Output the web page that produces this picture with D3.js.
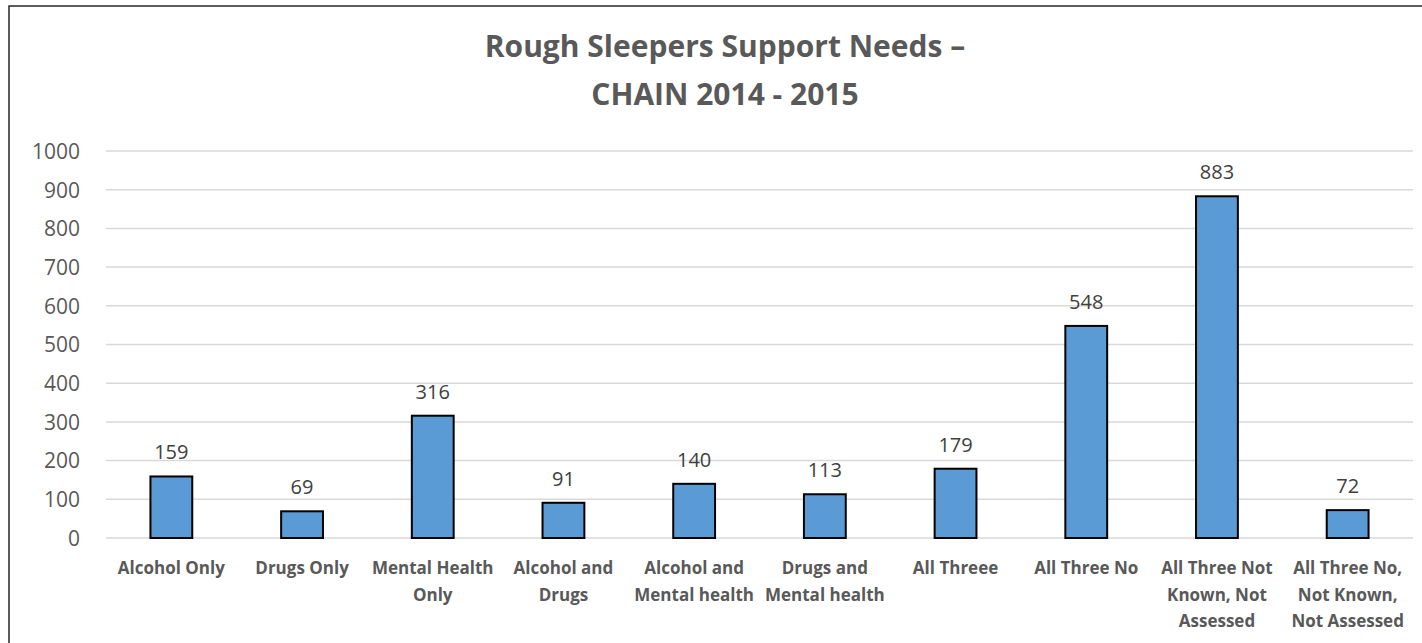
<!DOCTYPE html>
<html>
<head>
<meta charset="utf-8">
<script src="https://cdn.jsdelivr.net/npm/d3@7"></script>
<style>
    body { margin: 0; background: #fff; }
    svg { display: block; }
    .tick-lbl { font-family: "Open Sans", sans-serif; font-size: 21px; fill: #595959; }
    .cat-lbl { font-family: "Open Sans", sans-serif; font-size: 17px; font-weight: bold; fill: #595959; }
    .val-lbl { font-family: "Open Sans", sans-serif; font-size: 20px; fill: #404040; }
</style>
</head>
<body>
<svg id="chart" width="1422" height="643"></svg>
<script>
// categories (with their wrapped tick labels) and the values
var categories = ["Alcohol Only", "Drugs Only", "Mental Health Only", "Alcohol and Drugs",
    "Alcohol and Mental health", "Drugs and Mental health", "All Threee", "All Three No",
    "All Three Not Known, Not Assessed", "All Three No, Not Known, Not Assessed"];
var catLines = [["Alcohol Only"], ["Drugs Only"], ["Mental Health", "Only"], ["Alcohol and", "Drugs"],
    ["Alcohol and", "Mental health"], ["Drugs and", "Mental health"], ["All Threee"], ["All Three No"],
    ["All Three Not", "Known, Not", "Assessed"], ["All Three No,", "Not Known,", "Not Assessed"]];
var values = [159, 69, 316, 91, 140, 113, 179, 548, 883, 72];
var yTicks = [0, 100, 200, 300, 400, 500, 600, 700, 800, 900, 1000];
var titleLines = ["Rough Sleepers Support Needs \u2013", "CHAIN 2014 - 2015"];

var svg = d3.select("#chart");

// outer frame (runs past the right/bottom edge of the picture)
svg.append("rect")
    .attr("x", 9).attr("y", 6)
    .attr("width", 1432).attr("height", 660)
    .attr("fill", "none")
    .attr("stroke", "#262626")
    .attr("stroke-width", 1.5);

const plot = {left: 106, right: 1413, top: 151, bottom: 538};

var x = d3.scaleBand()
    .domain(categories)
    .range([plot.left, plot.right])
    .paddingInner(0.68)
    .paddingOuter(0.34);

var y = d3.scaleLinear()
    .domain([0, 1000])
    .range([plot.bottom, plot.top]);

// title
svg.append("text")
    .attr("x", 725)
    .attr("text-anchor", "middle")
    .style("font-family", "'Open Sans', sans-serif")
    .style("font-weight", "bold")
    .style("font-size", "30px")
    .style("fill", "#595959")
    .selectAll("tspan")
    .data(titleLines)
    .enter().append("tspan")
    .attr("x", 725)
    .attr("y", function(d, i) { return 57 + i * 48; })
    .text(function(d) { return d; });

// gridlines
svg.append("g")
    .selectAll("line")
    .data(yTicks)
    .enter().append("line")
    .attr("x1", plot.left).attr("x2", plot.right)
    .attr("y1", function(d) { return y(d); })
    .attr("y2", function(d) { return y(d); })
    .attr("stroke", "#d9d9d9")
    .attr("stroke-width", 1.5);

// y axis labels
var yAxis = svg.append("g")
    .attr("transform", "translate(" + plot.left + ",0)")
    .call(d3.axisLeft(y).tickValues(yTicks).tickFormat(d3.format("d")).tickSize(0).tickPadding(26));
yAxis.select(".domain").remove();
yAxis.selectAll("text").attr("class", "tick-lbl").attr("fill", null).attr("dy", "0.35em");

// bars
svg.append("g")
    .selectAll("rect")
    .data(values)
    .enter().append("rect")
    .attr("x", function(d, i) { return x(categories[i]); })
    .attr("y", function(d) { return y(d); })
    .attr("width", x.bandwidth())
    .attr("height", function(d) { return y(0) - y(d); })
    .attr("fill", "#5b9bd5")
    .attr("stroke", "#000")
    .attr("stroke-width", 2);

// value labels
svg.append("g")
    .selectAll("text")
    .data(values)
    .enter().append("text")
    .attr("class", "val-lbl")
    .attr("text-anchor", "middle")
    .attr("x", function(d, i) { return x(categories[i]) + x.bandwidth() / 2; })
    .attr("y", function(d) { return y(d) - 17; })
    .text(function(d) { return d; });

// category labels
var xAxis = svg.append("g")
    .attr("transform", "translate(0," + plot.bottom + ")")
    .call(d3.axisBottom(x).tickSize(0).tickFormat(""));
xAxis.select(".domain").remove();

xAxis.selectAll(".tick").each(function(d) {
    var lines = catLines[categories.indexOf(d)];
    d3.select(this).select("text").remove();
    d3.select(this).append("text")
        .attr("class", "cat-lbl")
        .attr("text-anchor", "middle")
        .selectAll("tspan")
        .data(lines)
        .enter().append("tspan")
        .attr("x", 0)
        .attr("y", function(l, i) { return 36 + i * 26.5; })
        .text(function(l) { return l; });
});
</script>
</body>
</html>
